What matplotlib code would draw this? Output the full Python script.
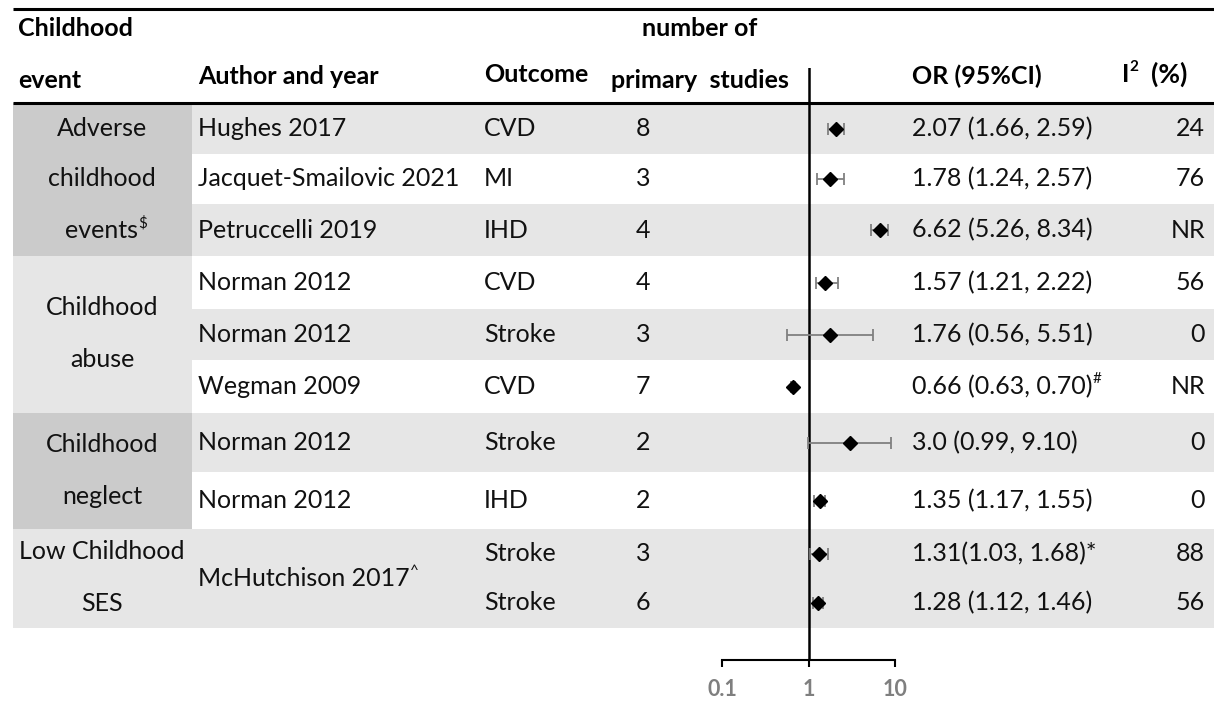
import matplotlib
matplotlib.use("Agg")
import matplotlib.pyplot as plt
from matplotlib.patches import Rectangle

plt.rcParams['font.family'] = ['Lato', 'DejaVu Sans']

# table data
group_lines = [['Adverse', 'childhood', 'events'], ['Childhood', 'abuse'],
               ['Childhood', 'neglect'], ['Low Childhood', 'SES']]
group_rows = [(0, 2), (3, 5), (6, 7), (8, 9)]
authors = ['Hughes 2017', 'Jacquet-Smailovic 2021', 'Petruccelli 2019', 'Norman 2012',
           'Norman 2012', 'Wegman 2009', 'Norman 2012', 'Norman 2012',
           'McHutchison 2017', None]
outcomes = ['CVD', 'MI', 'IHD', 'CVD', 'Stroke', 'CVD', 'Stroke', 'IHD', 'Stroke', 'Stroke']
n_studies = [8, 3, 4, 4, 3, 7, 2, 2, 3, 6]
or_val = [2.07, 1.78, 6.62, 1.57, 1.76, 0.66, 3.0, 1.35, 1.31, 1.28]
ci_lo = [1.66, 1.24, 5.26, 1.21, 0.56, 0.63, 0.99, 1.17, 1.03, 1.12]
ci_hi = [2.59, 2.57, 8.34, 2.22, 5.51, 0.70, 9.10, 1.55, 1.68, 1.46]
or_text = ['2.07 (1.66, 2.59)', '1.78 (1.24, 2.57)', '6.62 (5.26, 8.34)', '1.57 (1.21, 2.22)',
           '1.76 (0.56, 5.51)', '0.66 (0.63, 0.70)', '3.0 (0.99, 9.10)', '1.35 (1.17, 1.55)',
           '1.31(1.03, 1.68)*', '1.28 (1.12, 1.46)']
i2 = ['24', '76', 'NR', '56', '0', 'NR', '0', '0', '88', '56']
ticks = [0.1, 1, 10]
tick_labels = ['0.1', '1', '10']

# layout (pixels)
W, H = 1214, 702
edges = [103, 154, 204, 256, 309, 360, 413, 472, 529, 578, 628]
row_y = [(edges[i] + edges[i + 1]) / 2 for i in range(10)]
band_grey = [True, False, True, False, True, False, True, False, True, True]
dark_group = [True, False, True, False]
light, dark = '#e6e6e6', '#cbcbcb'
fs = 18
sup = 11
tc = '#111111'

fig = plt.figure(figsize=(W / 100, H / 100), dpi=100)
ax = fig.add_axes([0, 0, 1, 1])
ax.set_xlim(0, W)
ax.set_ylim(H, 0)
ax.axis('off')

# row bands
for i in range(10):
    if band_grey[i]:
        ax.add_patch(Rectangle((13, edges[i]), W - 13, edges[i + 1] - edges[i],
                               color=light, lw=0, zorder=0))
for g, (a, b) in enumerate(group_rows):
    ax.add_patch(Rectangle((13, edges[a]), 192 - 13, edges[b + 1] - edges[a],
                           color=dark if dark_group[g] else light, lw=0, zorder=1))

# rules
ax.plot([13, W], [9, 9], color='black', lw=2.2, solid_capstyle='butt')
ax.plot([13, W], [103, 103], color='black', lw=2.2, solid_capstyle='butt')

# header
hk = dict(fontsize=fs, fontweight='bold', color='black', va='center')
ax.text(18, 29, 'Childhood', **hk)
ax.text(18, 81, 'event', **hk)
ax.text(198, 76, 'Author and year', **hk)
ax.text(484, 74, 'Outcome', **hk)
ax.text(700, 29, 'number of', ha='center', **hk)
ax.text(700, 80, 'primary  studies', ha='center', **hk)
ax.text(912, 76, 'OR (95%CI)', **hk)
ti = ax.text(1122, 74, 'I', **hk)
ax.annotate('2', xy=(1, 1), xycoords=ti, xytext=(0, 2), textcoords='offset points',
            fontsize=sup, fontweight='bold', va='top')
ax.text(1187, 74, '(%)', ha='right', fontsize=fs + 1, fontweight='bold', color='black',
        va='center')

# group labels
for g, (a, b) in enumerate(group_rows):
    lines = group_lines[g]
    if len(lines) == 3:
        ys = [row_y[a], row_y[a + 1], row_y[a + 2]]
    else:
        mid = (edges[a] + edges[b + 1]) / 2
        ys = [mid - 27, mid + 25]
    for j, s in enumerate(lines):
        t = ax.text(102, ys[j], s, fontsize=fs, color=tc, ha='center', va='center')
        if g == 0 and j == 2:
            ax.annotate('$', xy=(1, 1), xycoords=t, xytext=(0, 2), textcoords='offset points',
                        fontsize=sup, color=tc, va='top')

# rows
for i in range(10):
    y = row_y[i]
    if authors[i] is not None:
        ya = y if i < 8 else edges[9]
        t = ax.text(198, ya, authors[i], fontsize=fs, color=tc, va='center')
        if i == 8:
            ax.annotate('^', xy=(1, 1), xycoords=t, xytext=(0, 2), textcoords='offset points',
                        fontsize=sup, color=tc, va='top')
    ax.text(484, y, outcomes[i], fontsize=fs, color=tc, va='center')
    ax.text(643, y, str(n_studies[i]), fontsize=fs, color=tc, va='center', ha='center')
    t = ax.text(912, y, or_text[i], fontsize=fs, color=tc, va='center')
    if i == 5:
        ax.annotate('#', xy=(1, 1), xycoords=t, xytext=(0, 2), textcoords='offset points',
                    fontsize=sup, color=tc, va='top')
    ax.text(1205, y, i2[i], fontsize=fs, color=tc, va='center', ha='right')

# forest plot
fx = fig.add_axes([722 / W, (H - 660) / H, (895 - 722) / W, (660 - 68) / H])
fx.patch.set_visible(False)
fx.set_xscale('log')
fx.set_xlim(0.1, 10)
fx.set_ylim(660, 68)
for s in ['top', 'left', 'right']:
    fx.spines[s].set_visible(False)
fx.spines['bottom'].set_linewidth(1.5)
fx.set_yticks([])
fx.set_xticks(ticks)
fx.set_xticklabels(tick_labels)
fx.minorticks_off()
fx.tick_params(axis='x', direction='out', length=5, width=1.5, pad=9,
               labelsize=15.5, labelcolor='#7f7f7f')
for lab in fx.get_xticklabels():
    lab.set_fontweight('bold')
fx.axvline(1, color='black', lw=1.8)
xerr = [[v - l for v, l in zip(or_val, ci_lo)], [h - v for v, h in zip(or_val, ci_hi)]]
fx.errorbar(or_val, row_y, xerr=xerr, fmt='none', ecolor='#808080', elinewidth=1.3,
            capsize=4, capthick=1.3)
fx.plot(or_val, row_y, 'D', color='black', ms=7, ls='none')

fig.savefig('out.png', dpi=100)
